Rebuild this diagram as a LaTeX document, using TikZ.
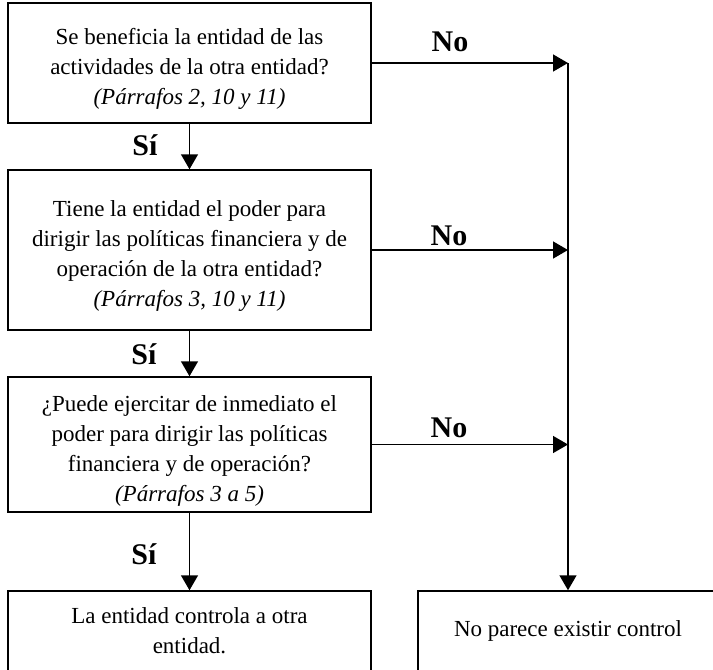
\documentclass[tikz,border=0pt]{standalone}
\usepackage{fontspec}
\setmainfont{Liberation Serif}
\usetikzlibrary{arrows.meta}
\newcommand{\topgap}{\rule{0pt}{27pt}}
\begin{document}
\begin{tikzpicture}[x=1pt,y=-1pt,
  box/.style={draw,line width=1.5pt,rectangle,align=center,inner sep=0pt,
    font=\fontsize{23}{30}\selectfont},
  qbox/.style={box,minimum width=363pt},
  lbl/.style={font=\fontsize{30}{30}\selectfont\bfseries,inner sep=0pt},
  arr/.style={line width=1.5pt,-{Triangle[length=15pt,width=17pt]}},
  ln/.style={line width=1.5pt}]
\useasboundingbox (0,0) rectangle (713,670);
\node[qbox,minimum height=120pt] (q1) at (189.5,63)
  {\topgap Se beneficia la entidad de las\\actividades de la otra entidad?\\\textit{(Párrafos 2, 10 y 11)}};
\node[qbox,minimum height=160pt] (q2) at (189.5,250)
  {\topgap Tiene la entidad el poder para\\dirigir las políticas financiera y de\\operación de la otra entidad?\\\textit{(Párrafos 3, 10 y 11)}};
\node[qbox,minimum height=135pt] (q3) at (189.5,444.5)
  {\rule{0pt}{29pt}¿Puede ejercitar de inmediato el\\poder para dirigir las políticas\\financiera y de operación?\\\textit{(Párrafos 3 a 5)}};
\node[box,minimum width=363pt,minimum height=80pt] (yes) at (189.5,631)
  {La entidad controla a otra\\entidad.};
\node[box,minimum width=300pt,minimum height=80pt] (no) at (568,631)
  {No parece existir control};
\coordinate (top) at (568,63);
\draw[arr] (q1.south) -- (q2.north);
\draw[arr] (q2.south) -- (q3.north);
\draw[arr] (q3.south) -- (yes.north);
\draw[arr] (top) -- (no.north);
\draw[arr] (q1.east) -- (q1.east -| no.north);
\draw[arr] (q2.east) -- (q2.east -| no.north);
\draw[arr] (q3.east) -- (q3.east -| no.north);
\node[lbl] (s1) at (145,145) {Sí};
\node[lbl] (s2) at (144,354) {Sí};
\node[lbl] (s3) at (144,554) {Sí};
\node[lbl] (n1) at (450,42) {No};
\node[lbl] (n2) at (449,236) {No};
\node[lbl] (n3) at (449,428) {No};
\end{tikzpicture}
\end{document}
